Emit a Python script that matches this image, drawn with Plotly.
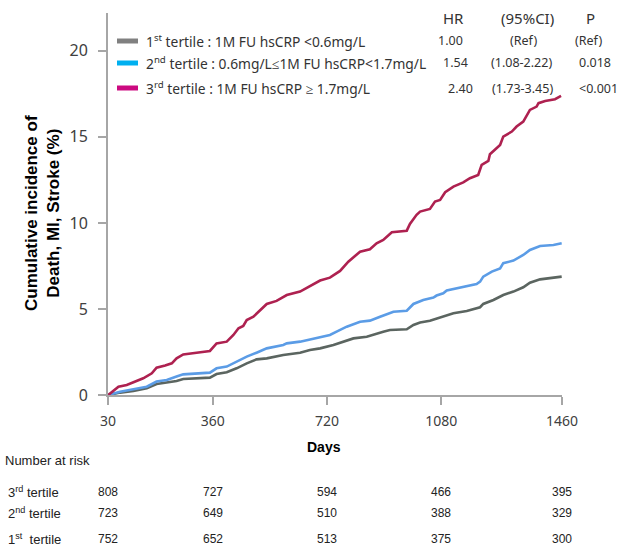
import plotly.graph_objects as go

# ---------------- data ----------------
t1_days = [31, 68, 110, 152, 183, 215, 246, 267, 351, 372, 404, 435, 467, 498, 530, 582, 635, 666, 698, 740,
           771, 803, 845, 876, 897, 918, 971, 992, 1013, 1044, 1086, 1118, 1160, 1202, 1212, 1244, 1275, 1307,
           1338, 1359, 1391, 1433, 1459]
t1_vals = [0, 0.14, 0.23, 0.39, 0.64, 0.72, 0.81, 0.93, 1.01, 1.22, 1.32, 1.55, 1.84, 2.07, 2.13, 2.33, 2.46,
           2.62, 2.71, 2.91, 3.10, 3.29, 3.39, 3.59, 3.68, 3.78, 3.82, 4.07, 4.21, 4.32, 4.59, 4.75, 4.88, 5.10,
           5.29, 5.52, 5.81, 6.01, 6.26, 6.53, 6.72, 6.82, 6.88]

t2_days = [31, 68, 110, 152, 183, 215, 246, 267, 351, 372, 404, 435, 467, 498, 530, 582, 593, 635, 666, 698,
           729, 750, 782, 824, 855, 887, 918, 929, 971, 992, 1023, 1055, 1065, 1086, 1097, 1128, 1160, 1191,
           1202, 1212, 1239, 1265, 1275, 1307, 1338, 1359, 1391, 1433, 1459]
t2_vals = [0, 0.19, 0.33, 0.48, 0.78, 0.87, 1.07, 1.20, 1.30, 1.55, 1.65, 1.94, 2.23, 2.46, 2.71, 2.91, 3.00,
           3.10, 3.24, 3.39, 3.49, 3.68, 3.97, 4.26, 4.32, 4.55, 4.75, 4.84, 4.90, 5.29, 5.52, 5.66, 5.78, 5.91,
           6.07, 6.20, 6.34, 6.45, 6.59, 6.88, 7.17, 7.36, 7.66, 7.81, 8.14, 8.43, 8.66, 8.72, 8.82]

t3_days = [31, 63, 89, 110, 141, 168, 183, 210, 231, 246, 267, 309, 351, 372, 404, 425, 441, 456, 467, 488,
           509, 530, 561, 593, 635, 656, 698, 729, 761, 787, 824, 855, 876, 897, 924, 971, 981, 1002, 1013,
           1044, 1060, 1076, 1092, 1118, 1149, 1170, 1196, 1207, 1228, 1233, 1265, 1275, 1302, 1317, 1338,
           1359, 1380, 1386, 1407, 1438, 1457]
t3_vals = [0, 0.48, 0.58, 0.72, 0.97, 1.26, 1.59, 1.71, 1.84, 2.13, 2.36, 2.46, 2.56, 3.00, 3.10, 3.49, 3.88,
           4.01, 4.36, 4.55, 4.94, 5.29, 5.47, 5.81, 6.01, 6.24, 6.65, 6.82, 7.21, 7.75, 8.33, 8.47, 8.82, 9.01,
           9.46, 9.55, 9.94, 10.47, 10.66, 10.81, 11.24, 11.34, 11.78, 12.11, 12.36, 12.60, 12.79, 13.37, 13.60,
           13.99, 14.53, 15.02, 15.31, 15.60, 15.89, 16.57, 16.76, 16.96, 17.09, 17.19, 17.38]

x_ticks = [30, 360, 720, 1080, 1460]
y_ticks = [0, 5, 10, 15, 20]

legend_labels = [
    "1<sup>st</sup> tertile : 1M FU hsCRP &lt;0.6mg/L",
    "2<sup>nd</sup> tertile : 0.6mg/L\u22641M FU hsCRP&lt;1.7mg/L",
    "3<sup>rd</sup> tertile : 1M FU hsCRP \u2265 1.7mg/L",
]
hr_vals = ["1.00", "1.54", "2.40"]
ci_vals = ["(Ref)", "(1.08-2.22)", "(1.73-3.45)"]
p_vals = ["(Ref)", "0.018", "&lt;0.001"]

risk_labels = ["3<sup>rd</sup> tertile", "2<sup>nd</sup> tertile", "1<sup>st</sup>  tertile"]
risk_t3 = [808, 727, 594, 466, 395]
risk_t2 = [723, 649, 510, 388, 329]
risk_t1 = [752, 652, 513, 375, 300]

line_colors = ["#5B6560", "#5B9CE6", "#AE2150"]
swatch_colors = ["#808080", "#00B0F0", "#CC0A80"]

# ---------------- figure ----------------
fig = go.Figure()
for d, v, c in [(t1_days, t1_vals, line_colors[0]),
                (t2_days, t2_vals, line_colors[1]),
                (t3_days, t3_vals, line_colors[2])]:
    fig.add_trace(go.Scatter(x=d, y=v, mode="lines", line=dict(color=c, width=2.6),
                             showlegend=False, hoverinfo="skip"))

W, H = 621, 550
ml, mr, mt, mb = 108, 59, 13, 155
pw, ph = W - ml - mr, H - mt - mb

fig.update_layout(
    width=W, height=H,
    margin=dict(l=ml, r=mr, t=mt, b=mb, autoexpand=False),
    paper_bgcolor="white", plot_bgcolor="white",
    font=dict(family="Noto Sans", color="#333333"),
    xaxis=dict(range=[30, 1460], tickvals=x_ticks, ticktext=[str(v) for v in x_ticks],
               automargin=False, ticklabelstandoff=4,
               showgrid=False, zeroline=False, showline=True, linecolor="#A6A6A6", linewidth=2,
               ticks="outside", ticklen=8, tickcolor="#A6A6A6", tickwidth=1.5,
               tickfont=dict(size=14, color="#404040")),
    yaxis=dict(range=[0, 22.2], tickvals=y_ticks, showgrid=False, zeroline=False,
               automargin=False, ticklabelstandoff=7,
               showline=True, linecolor="#A6A6A6", linewidth=2,
               ticks="outside", ticklen=8, tickcolor="#A6A6A6", tickwidth=1.5,
               tickfont=dict(size=16, color="#404040")),
)

def px2x(px):
    return (px - ml) / pw

def py2y(py):
    return 1 - (py - mt) / ph

def A(text, x, y, xanchor="center", xref="paper", **font):
    f = dict(color="#333333")
    f.update(font)
    return dict(text=text, x=x, y=y, xref=xref, yref="paper", xanchor=xanchor,
                yanchor="middle", showarrow=False, font=f)

ann = []
# Y title
t = A("<b>Cumulative incidence of<br>Death, MI, Stroke (%)</b>", px2x(42), py2y(213),
      family="Liberation Sans", size=17, color="black")
t["textangle"] = -90
ann.append(t)
# Days title
ann.append(A("<b>Days</b>", px2x(324), py2y(447), family="Liberation Sans", size=14, color="black"))

# Legend table header
for txt, xc in [("HR", 453), ("(95%CI)", 527), ("P", 590)]:
    ann.append(A(txt, px2x(xc), py2y(18), size=15))

rows_y = [41, 63, 88]
shapes = []
for i in range(3):
    y = rows_y[i]
    shapes.append(dict(type="line", xref="paper", yref="paper", x0=px2x(117), x1=px2x(138),
                       y0=py2y(y), y1=py2y(y), line=dict(color=swatch_colors[i], width=5)))
    ann.append(A(legend_labels[i], px2x(144), py2y(y), xanchor="left", size=13.8))
    ann.append(A(hr_vals[i], px2x([450, 455, 460][i]), py2y(y), size=12.5))
    ann.append(A(ci_vals[i], px2x([523, 521, 522][i]), py2y(y), size=12.5))
    ann.append(A(p_vals[i], px2x([588, 595, 598][i]), py2y(y), size=12.5))

# Number at risk
ann.append(A("Number at risk", px2x(3), py2y(461), xanchor="left",
             family="Liberation Sans", size=13, color="#222222"))
risk_rows = [risk_t3, risk_t2, risk_t1]
risk_y = [492, 513, 539]
for i in range(3):
    ann.append(A(risk_labels[i], px2x(6), py2y(risk_y[i]), xanchor="left",
                 family="Liberation Sans", size=13, color="#222222"))
    for xv, n in zip(x_ticks, risk_rows[i]):
        ann.append(A(str(n), xv, py2y(risk_y[i]), xref="x",
                     family="Liberation Sans", size=12, color="#222222"))

fig.update_layout(annotations=ann, shapes=shapes)
fig.write_html("out.html", config={"displayModeBar": False},
               post_script="document.body.style.margin='0';document.body.style.padding='0';")
